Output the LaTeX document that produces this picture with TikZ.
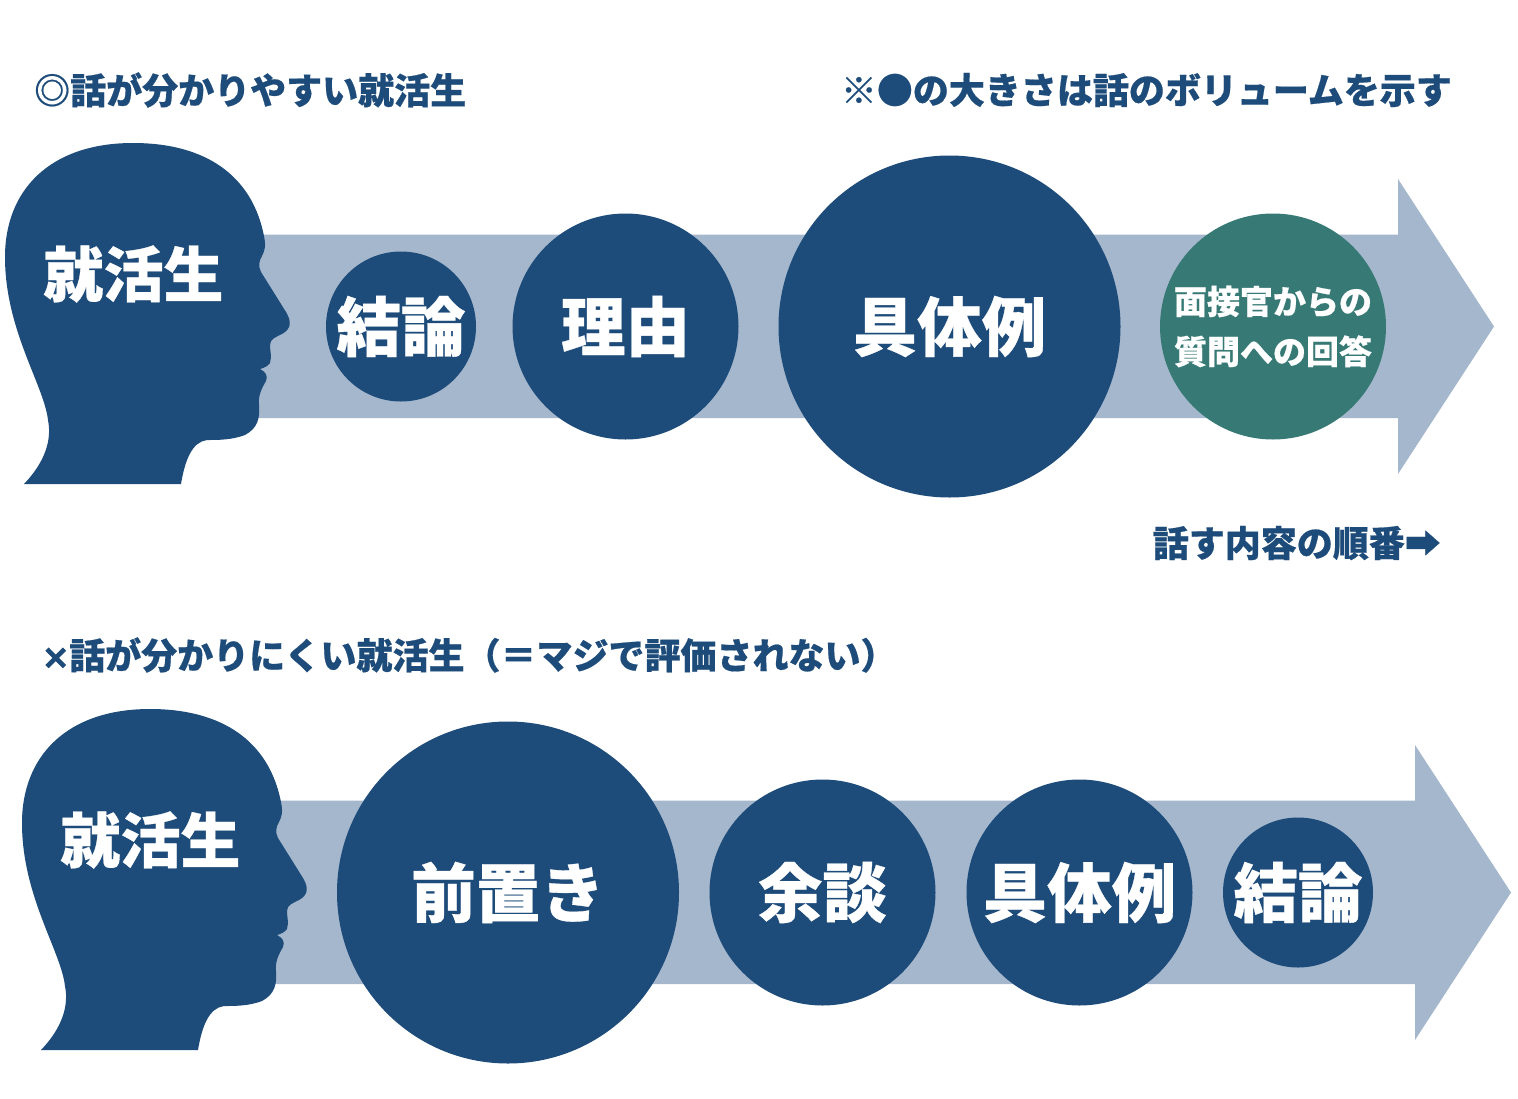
\documentclass[tikz,border=0pt]{standalone}
\usepackage{fontspec}
\setmainfont[FakeBold=0.5]{Noto Sans CJK JP Black}
\definecolor{navy}{HTML}{1D4B7A}
\definecolor{pale}{HTML}{A5B7CC}
\definecolor{teal2}{HTML}{377A75}
\tikzset{
  ball/.style={circle,fill=navy,draw=none,inner sep=0pt,text=white,align=center},
  heading/.style={text=navy,inner sep=0pt,font=\fontsize{36}{36}\selectfont},
  big/.style={font=\fontsize{64.5}{65}\selectfont},
  headlabel/.style={text=white,inner sep=0pt,font=\fontsize{60}{60}\selectfont},
}
\newcommand{\headshape}{%
  \fill[navy] (24,484) .. controls (45,462) and (52,440) .. (48,420)
   .. controls (44,385) and (5,330) .. (5,257)
   .. controls (5,190) and (50,143) .. (133,143)
   .. controls (205,143) and (252,175) .. (264,236)
   .. controls (266,246) and (265,250) .. (262,256)
   .. controls (259,261) and (258,266) .. (261,272)
   -- (286,312)
   .. controls (292,322) and (291,329) .. (282,334)
   .. controls (276,337) and (270,339) .. (270,345)
   .. controls (270,352) and (272,356) .. (270,363)
   .. controls (268,366) and (264,368) .. (260,369)
   .. controls (266,372) and (268,376) .. (266,381)
   .. controls (262,388) and (258,395) .. (259,405)
   .. controls (260,418) and (258,428) .. (245,435)
   .. controls (232,440) and (218,440) .. (207,440)
   .. controls (192,442) and (185,460) .. (181,484) -- cycle;
}
\newcommand{\arrowshape}{%
  \fill[pale] (250,234.5) -- (1398,234.5) -- (1398,179) -- (1494,326.5) -- (1398,474) -- (1398,418) -- (250,418) -- cycle;
}
\begin{document}
\begin{tikzpicture}[x=1pt,y=-1pt]
\useasboundingbox (0,0) rectangle (1518,1098);
\fill[white] (0,0) rectangle (1518,1098);
% upper row
\arrowshape
\headshape
\node[headlabel] (h1) at (133.5,274) {就活生};
\node[ball,big,minimum size=150pt] (a1) at (401,326.5) {結論};
\node[ball,big,minimum size=226pt] (a2) at (625.5,326.5) {理由};
\node[ball,big,minimum size=342pt] (a3) at (949.5,326.5) {具体例};
\node[ball,fill=teal2,minimum size=226pt,font=\fontsize{33}{50}\selectfont] (a4) at (1273,326.5) {面接官からの\\質問への回答};
\node[heading,anchor=west] (t1) at (34,90) {◎話が分かりやすい就活生};
\node[heading,anchor=east] (t2) at (1452,90) {※●の大きさは話のボリュームを示す};
\node[heading,anchor=east] (t3) at (1441,543) {話す内容の順番➡};
% lower row
\begin{scope}[shift={(17,566)}]
\arrowshape
\headshape
\node[headlabel] (h2) at (133.5,274) {就活生};
\end{scope}
\node[ball,big,minimum size=342pt] (b1) at (508,892.5) {前置き};
\node[ball,big,minimum size=226pt] (b2) at (822.5,892.5) {余談};
\node[ball,big,minimum size=226pt] (b3) at (1079.5,892.5) {具体例};
\node[ball,big,minimum size=150pt] (b4) at (1298,892.5) {結論};
\node[heading,anchor=west] (t4) at (42,655) {\makebox[27pt][c]{\fontsize{29}{29}\selectfont\addfontfeature{FakeBold=3.5}×}話が分かりにくい就活生（＝マジで評価されない）};
\end{tikzpicture}
\end{document}
